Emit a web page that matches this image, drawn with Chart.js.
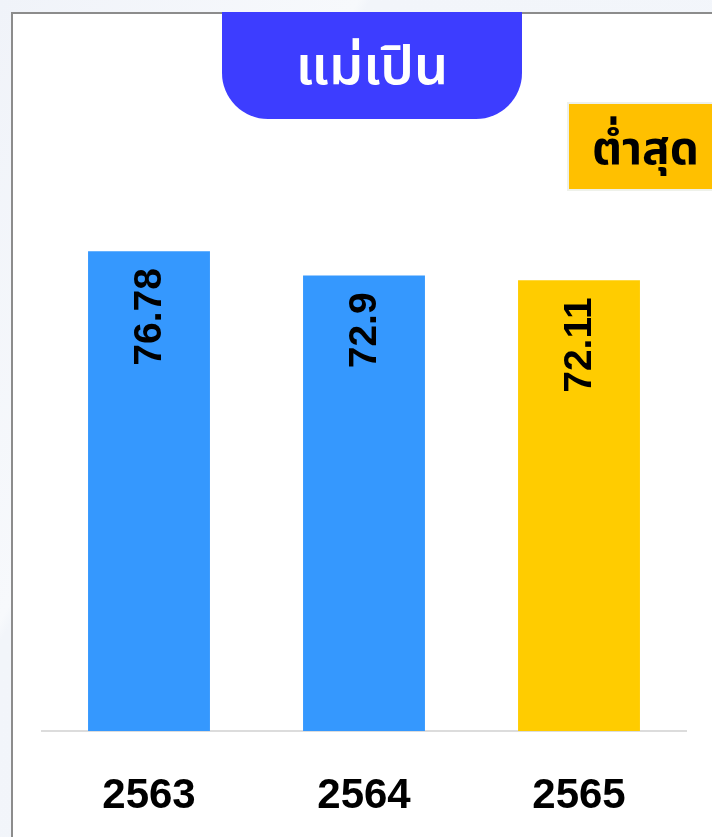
<!DOCTYPE html>
<html>
<head>
<meta charset="utf-8">
<script src="https://cdn.jsdelivr.net/npm/chart.js@4"></script>
<style>
  html, body { margin: 0; padding: 0; }
  body {
    width: 712px; height: 837px; overflow: hidden; position: relative;
    background: linear-gradient(120deg, #f0f3f9 0%, #f7f9fc 30%, #f2f5fa 31%, #f3f6fb 100%);
    font-family: "Noto Sans Thai", "Noto Sans", sans-serif;
  }
  #panel {
    position: absolute; left: 11px; top: 12px; width: 720px; height: 840px;
    background: #fff; border-left: 2px solid #8c8c8c; border-top: 2px solid #8c8c8c;
  }
  #chartBar { position: absolute; left: 0; top: 0; }
  #tab {
    position: absolute; left: 222px; top: 12px; width: 300px; height: 107px;
    background: #3d3dff; color: #fff; border-radius: 0 0 46px 46px;
    font-size: 54px; font-weight: 600; text-align: center; line-height: 112px;
  }
  #badge {
    position: absolute; left: 569px; top: 104px; width: 160px; height: 85px;
    background: #ffc000; color: #000; box-shadow: 0 0 0 2px #eef1ea;
    font-size: 46px; font-weight: 700; line-height: 92px; padding-left: 23px;
    box-sizing: border-box;
  }
</style>
</head>
<body>
<div id="panel"></div>
<canvas id="chartBar" width="712" height="837"></canvas>
<div id="tab">แม่เปิน</div>
<div id="badge">ต่ำสุด</div>
<script>
const years = ['2563', '2564', '2565'];
const scores = [76.78, 72.9, 72.11];

const lowest = Math.min(...scores);
const barColors = scores.map(v => v === lowest ? '#ffcc00' : '#3598fe');

// rotated value labels inside top of each bar
const valueLabels = {
    id: 'valueLabels',
    afterDatasetsDraw(chart) {
        const c = chart.ctx;
        const meta = chart.getDatasetMeta(0);
        c.save();
        c.fillStyle = '#000';
        c.font = 'bold 39px "Liberation Sans", Arial, sans-serif';
        c.textAlign = 'right';
        c.textBaseline = 'middle';
        meta.data.forEach((bar, i) => {
            c.save();
            c.translate(bar.x + 1, bar.y + 17);
            c.rotate(-Math.PI / 2);
            c.fillText(String(scores[i]), 0, 0);
            c.restore();
        });
        c.restore();
    }
};

var ctx = document.getElementById('chartBar').getContext('2d');
var chart = new Chart(ctx, {
    type: 'bar',
    data: {
        labels: years,
        datasets: [{
            data: scores,
            backgroundColor: barColors,
            barPercentage: 0.567,
            categoryPercentage: 1
        }]
    },
    options: {
        responsive: false,
        animation: false,
        layout: { padding: { left: 41.5, right: 25.5, top: 231, bottom: 19 } },
        plugins: { legend: { display: false }, tooltip: { enabled: false } },
        scales: {
            x: {
                afterFit: (scale) => { scale.height = 87; },
                grid: { display: false, drawTicks: false },
                border: { display: true, color: '#dcdcdc', width: 2 },
                ticks: {
                    padding: 40,
                    color: '#000',
                    font: { family: '"Liberation Sans", Arial, sans-serif', size: 42, weight: 'bold' }
                }
            },
            y: { display: false, min: 0, max: 80 }
        }
    },
    plugins: [valueLabels]
});
</script>
</body>
</html>
